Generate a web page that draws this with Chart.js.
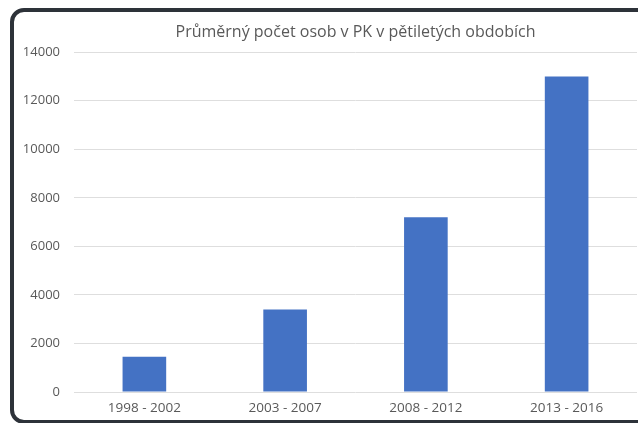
<!DOCTYPE html>
<html>
<head>
<meta charset="utf-8">
<script src="https://cdn.jsdelivr.net/npm/chart.js@4"></script>
<style>
    html, body { margin: 0; padding: 0; background: #fff; }
    #wrap { position: relative; width: 638px; height: 423px; overflow: hidden; }
    #frame {
        position: absolute; left: 10px; top: 8px; width: 660px; height: 408px;
        border: 4px solid #2d3239; border-radius: 14px;
    }
    #chart { position: absolute; left: 0; top: 0; }
</style>
</head>
<body>
<div id="wrap">
    <div id="frame"></div>
    <canvas id="chart" width="638" height="423"></canvas>
</div>
<script>
const titleText = 'Průměrný počet osob v PK v pětiletých obdobích';
const periods = ['1998 - 2002', '2003 - 2007', '2008 - 2012', '2013 - 2016'];
const avgPersons = [1450, 3400, 7200, 13000];

const yMin = 0;
const yMax = 14000;
const yStep = 2000;

const labelColor = '#595959';
const fontFamily = '"Open Sans", "Noto Sans", sans-serif';

new Chart(document.getElementById('chart'), {
    type: 'bar',
    data: {
        labels: periods,
        datasets: [{
            data: avgPersons,
            backgroundColor: '#4472c4',
            barPercentage: 0.31,
            categoryPercentage: 1
        }]
    },
    options: {
        responsive: false,
        animation: false,
        layout: { padding: { left: 0, right: 1, top: 21, bottom: 0 } },
        plugins: {
            legend: { display: false },
            tooltip: { enabled: false },
            title: {
                display: true,
                fullSize: false,
                text: titleText,
                color: labelColor,
                font: { family: fontFamily, size: 16, weight: 'normal' },
                padding: { top: 2, bottom: 10 }
            }
        },
        scales: {
            x: {
                grid: { display: false, drawTicks: false },
                border: { display: false },
                afterFit: (scale) => { scale.height = 31; },
                ticks: {
                    color: labelColor,
                    font: { family: fontFamily, size: 13.5 },
                    padding: 8,
                    maxRotation: 0
                }
            },
            y: {
                min: yMin,
                max: yMax,
                grid: { color: '#dedede', lineWidth: 1, drawTicks: false },
                border: { display: false },
                afterFit: (scale) => { scale.width = 74; },
                ticks: {
                    stepSize: yStep,
                    color: labelColor,
                    font: { family: fontFamily, size: 13 },
                    padding: 14,
                    callback: (value) => String(value)
                }
            }
        }
    }
});
</script>
</body>
</html>
